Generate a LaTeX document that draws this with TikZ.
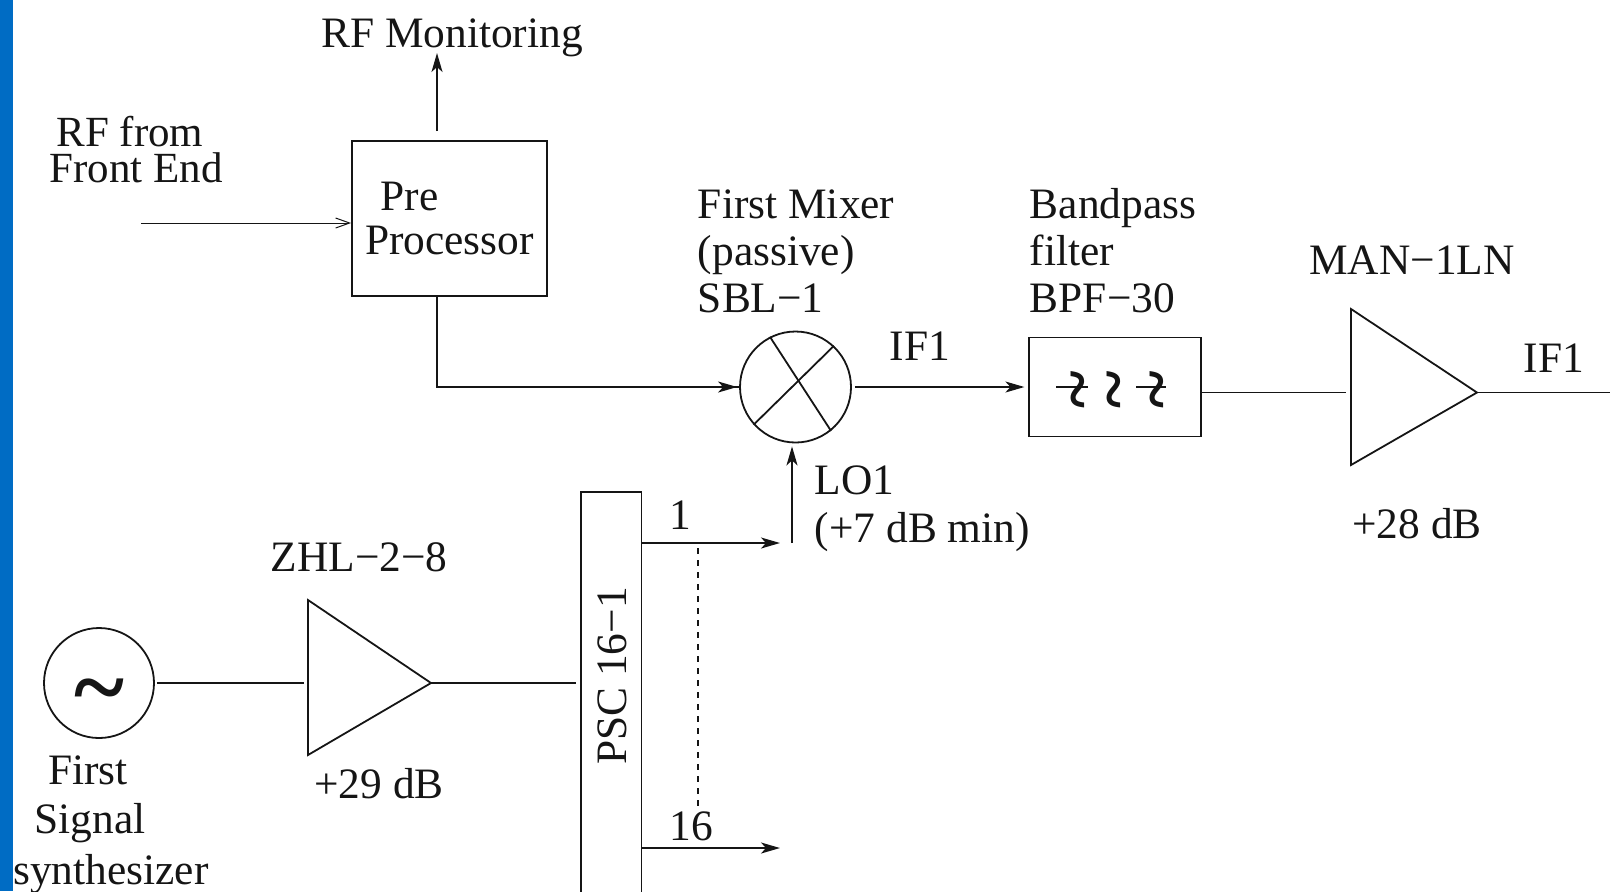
\documentclass[tikz,border=0pt]{standalone}
\usepackage{fontspec}
\setmainfont{Liberation Serif}
\usepackage{xcolor}
\usetikzlibrary{arrows.meta, positioning}
\definecolor{stripblue}{HTML}{006CC4}
\definecolor{ink}{HTML}{151515}

\begin{document}
\begin{tikzpicture}[x=0.5pt, y=-0.5pt, line width=0.9pt, draw=ink, text=ink,
   font=\fontsize{21.7}{23.7}\selectfont,
   lbl/.style={inner sep=0pt, align=left},
   blk/.style={draw, minimum width=#1, inner sep=0pt},
   sumr/.style={draw, circle, minimum size=55.5pt, inner sep=0pt},
   wav/.style={inner sep=0pt, rotate=90, font=\fontsize{36}{36}\selectfont\bfseries},
   sig/.style={-{Stealth[length=9.5pt, width=5.5pt, inset=2.5pt]}}]
  \useasboundingbox (0,0) rectangle (1610,891);
  \fill[stripblue] (0,0) rectangle (13,891);
  % pre processor, top left
  \node[blk=97.5pt, minimum height=77.5pt, align=left, font=\fontsize{21.7}{22}\selectfont] (pre) at (449.5,218.5)
       {\hspace*{7.7pt}Pre\\Processor};
  \node[lbl, font=\fontsize{21.5}{18}\selectfont] (rffrom) at (136,150) {\hspace*{3.5pt}RF from\\Front End};
  \node[lbl] (mon) at (452,38) {RF Monitoring};
  \coordinate (rfin) at (141,223);
  \coordinate (monbot) at (437,131);
  \coordinate (montop) at (437,53);
  \coordinate (predown) at (437,296);
  \draw[-{Straight Barb[length=7pt, width=5pt]}, line width=0.5pt] (rfin) -- (rfin-|pre.west);
  \draw[sig] (monbot) -- (montop);
  % mixer and filter
  \node[sumr] (mix) at (795.5,387) {};
  \draw (mix.117) -- (mix.-51);
  \draw (mix.47) -- (mix.222);
  \node[blk=86pt, minimum height=49.5pt, right=88.25pt of mix] (filt) {};
  \node[lbl, anchor=north west] (mixlab) at (697,188.5) {First Mixer\\(passive)\\SBL−1};
  \node[lbl, anchor=north west] (filtlab) at (1029,187) {Bandpass\\filter\\BPF−30};
  \node[lbl] (ifa) at (920,346) {IF1};
  \draw[sig, shorten <=1.5pt, shorten >=2pt] (mix.east) -- (filt.west);
  \draw (predown) |- (mix.west);
  \draw[sig, shorten >=1pt] (predown|-mix.west) -- (mix.west);
  % filter symbols
  \node[wav] (wa) at (1086,390) {\textasciitilde};
  \node[wav] (wb) at (1122,390) {\textasciitilde};
  \node[wav] (wc) at (1165,390) {\textasciitilde};
  \draw ([xshift=-15pt, yshift=1.5pt]wa.center) -- ([xshift=1pt, yshift=1.5pt]wa.center);
  \draw ([xshift=-14.5pt, yshift=1.5pt]wc.center) -- ([xshift=.5pt, yshift=1.5pt]wc.center);
  % output amplifier
  \coordinate (mant) at (1351,309);
  \coordinate (manb) at (1351,465);
  \coordinate (mana) at (1477,392.5);
  \coordinate (ifend) at (1610,392.5);
  \draw (mant) -- (mana) -- (manb) -- cycle;
  \draw[shorten >=2.5pt] (filt.east|-mana) -- (mana-|mant);
  \draw (mana) -- (ifend);
  \node[lbl] (manlab) at (1412,260) {MAN−1LN};
  \node[lbl] (mangain) at (1417,524) {+28 dB};
  \node[lbl] (ifb) at (1554,358) {IF1};
  % synthesizer chain
  \node[sumr, minimum size=55pt] (osc) at (99,683) {};
  \node[inner sep=0pt, font=\fontsize{48}{48}\selectfont\bfseries] (tilde) at (99,699) {\textasciitilde};
  \coordinate (zhlt) at (308,600);
  \coordinate (zhlb) at (308,755);
  \coordinate (zhla) at (431,683);
  \draw (zhlt) -- (zhla) -- (zhlb) -- cycle;
  \node[blk=29.5pt, draw=none, minimum height=199pt] (psc) at (611,692) {};
  \draw (psc.south west) |- (psc.north east) -- (psc.south east);
  \node[lbl, rotate=90] (psclab) at (612,676) {PSC 16−1};
  \draw[shorten <=1pt, shorten >=2pt] (osc.east) -- (osc.east-|zhlt);
  \draw[shorten >=2.5pt] (zhla) -- (zhla-|psc.west);
  \node[lbl] (zhllab) at (359,557) {ZHL−2−8};
  \node[lbl] (zhlgain) at (379,784) {+29 dB};
  \node[lbl] (first) at (88,770) {First};
  \node[lbl] (signal) at (90,823) {Signal};
  \node[lbl] (synth) at (111,874) {synthesizer};
  % splitter outputs
  \coordinate (outa) at (780,543);
  \coordinate (outb) at (780,848);
  \coordinate (lo) at (792,543);
  \coordinate (dasha) at (698,548);
  \coordinate (dashb) at (698,811);
  \draw[sig] (psc.east|-outa) -- (outa);
  \draw[sig] (psc.east|-outb) -- (outb);
  \draw[sig, shorten >=1.5pt] (lo) -- (lo|-mix.south);
  \draw[dashed] (dasha) -- (dashb);
  \node[lbl] (na) at (680,515) {1};
  \node[lbl] (nb) at (691,826) {16};
  \node[lbl, anchor=west] (lolab) at (814,480) {LO1};
  \node[lbl, anchor=west] (lomin) at (814,532) {(+7 dB min)};
\end{tikzpicture}
\end{document}
